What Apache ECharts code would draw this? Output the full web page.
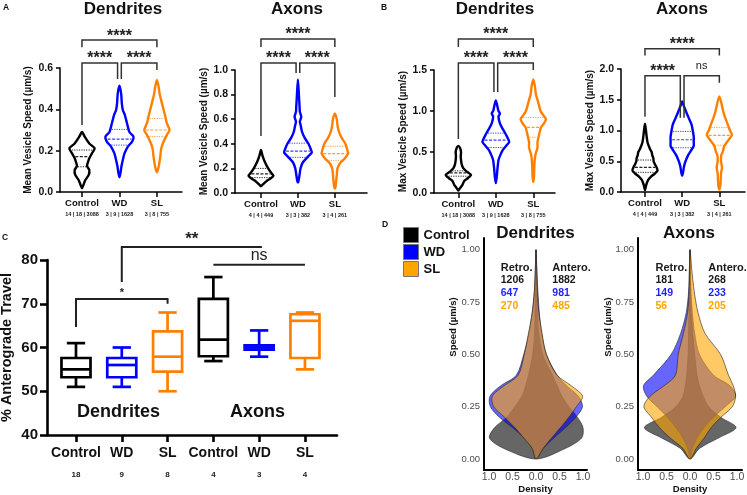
<!DOCTYPE html>
<html>
<head>
<meta charset="utf-8">
<script src="https://cdn.jsdelivr.net/npm/echarts@6.0.0/dist/echarts.min.js"></script>
<style>
html,body{margin:0;padding:0;background:#ffffff;}
#chart{width:747px;height:495px;}
</style>
</head>
<body>
<div id="chart"></div>
<script>
// ================= DATA =================
const groups = ['Control', 'WD', 'SL'];
const dendCounts = ['14 | 18 | 3088', '3 | 9 | 1628', '3 | 8 | 755'];
const axonCounts = ['4 | 4 | 449', '3 | 3 | 382', '3 | 4 | 261'];

// y tick labels
const aDendYTicks = [0, 0.2, 0.4, 0.6];
const aAxonYTicks = [0, 0.2, 0.4, 0.6, 0.8, 1.0];
const bDendYTicks = [0, 0.5, 1.0, 1.5];
const bAxonYTicks = [0, 0.5, 1.0, 1.5, 2.0];
const cYTicks = [40, 50, 60, 70, 80];
const dYTicks = [0, 0.25, 0.5, 0.75, 1.0];
const dXTicks = [-1, -0.5, 0, 0.5, 1];

// Panel A: mean vesicle speed violins, [speed, relative density]
const aDendControl = [[0.018,0],[0.034,0.1],[0.058,0.24],[0.083,0.48],[0.107,0.52],[0.126,0.36],[0.145,0.43],[0.163,0.52],[0.187,0.71],[0.211,0.9],[0.235,0.52],[0.268,0.19],[0.29,0]];
const aDendWD = [[0.071,0],[0.09,0.07],[0.123,0.14],[0.155,0.24],[0.187,0.36],[0.22,0.6],[0.244,0.9],[0.268,1.0],[0.29,0.71],[0.324,0.57],[0.348,0.48],[0.373,0.38],[0.397,0.24],[0.429,0.17],[0.477,0.12],[0.514,0]];
const aDendSL = [[0.095,0],[0.115,0.1],[0.139,0.17],[0.171,0.24],[0.211,0.31],[0.244,0.48],[0.276,0.71],[0.3,0.9],[0.332,0.71],[0.365,0.6],[0.397,0.48],[0.429,0.36],[0.477,0.19],[0.51,0.12],[0.542,0]];
const aDendQuartiles = [[0.122,0.171,0.203],[0.227,0.256,0.303],[0.268,0.3,0.356]];

const aAxonControl = [[0.054,0],[0.07,0.14],[0.1,0.43],[0.12,0.71],[0.14,0.9],[0.16,0.76],[0.2,0.52],[0.25,0.29],[0.3,0.12],[0.35,0]];
const aAxonWD = [[0.084,0],[0.1,0.05],[0.15,0.12],[0.2,0.19],[0.25,0.36],[0.3,0.76],[0.33,1.0],[0.35,0.95],[0.4,0.76],[0.45,0.48],[0.5,0.29],[0.55,0.2],[0.58,0.14],[0.62,0.24],[0.66,0.14],[0.7,0.12],[0.8,0.07],[0.924,0]];
const aAxonSL = [[0.035,0],[0.05,0.05],[0.1,0.1],[0.15,0.14],[0.2,0.19],[0.24,0.36],[0.28,0.71],[0.32,0.95],[0.35,0.9],[0.4,0.76],[0.45,0.48],[0.5,0.29],[0.55,0.19],[0.6,0.14],[0.647,0]];
const aAxonQuartiles = [[0.125,0.155,0.2],[0.29,0.34,0.405],[0.265,0.32,0.38]];

// Panel B: max vesicle speed violins
const bDendControl = [[0.03,0],[0.06,0.12],[0.1,0.29],[0.15,0.43],[0.18,0.67],[0.22,0.9],[0.26,0.6],[0.3,0.36],[0.35,0.24],[0.4,0.19],[0.45,0.17],[0.5,0.19],[0.55,0.12],[0.575,0]];
const bDendWD = [[0.12,0],[0.2,0.07],[0.3,0.12],[0.4,0.19],[0.45,0.29],[0.52,0.48],[0.58,0.76],[0.62,0.95],[0.65,0.9],[0.7,0.76],[0.75,0.6],[0.8,0.43],[0.85,0.29],[0.93,0.19],[0.97,0.29],[1.0,0.19],[1.05,0.12],[1.13,0]];
const bDendSL = [[0.135,0],[0.2,0.05],[0.3,0.07],[0.4,0.1],[0.48,0.17],[0.55,0.3],[0.62,0.3],[0.7,0.4],[0.8,0.55],[0.85,0.76],[0.9,0.9],[0.95,0.71],[1.0,0.52],[1.1,0.36],[1.2,0.19],[1.3,0.12],[1.386,0]];
const bDendQuartiles = [[0.205,0.245,0.27],[0.555,0.645,0.73],[0.68,0.8,0.92]];

const bAxonControl = [[0.03,0],[0.1,0.07],[0.15,0.14],[0.2,0.24],[0.25,0.43],[0.3,0.71],[0.35,0.9],[0.4,0.83],[0.45,0.71],[0.5,0.62],[0.55,0.6],[0.6,0.52],[0.65,0.48],[0.7,0.36],[0.8,0.19],[0.9,0.12],[1.0,0.07],[1.11,0]];
const bAxonWD = [[0.265,0],[0.3,0.05],[0.4,0.12],[0.45,0.17],[0.5,0.24],[0.6,0.43],[0.7,0.71],[0.75,0.83],[0.8,0.83],[0.9,0.83],[1.0,0.76],[1.1,0.67],[1.2,0.48],[1.3,0.29],[1.4,0.12],[1.474,0]];
const bAxonSL = [[0.04,0],[0.1,0.07],[0.2,0.1],[0.3,0.12],[0.4,0.19],[0.5,0.12],[0.6,0.14],[0.65,0.24],[0.75,0.36],[0.85,0.67],[0.93,0.9],[1.0,0.76],[1.1,0.6],[1.2,0.43],[1.3,0.29],[1.45,0.14],[1.555,0]];
const bAxonQuartiles = [[0.32,0.4,0.52],[0.72,0.85,0.985],[0.76,0.92,1.05]];

// significance brackets: [x1, x2, barY, dropY1, dropY2]
const aDendBrackets = [[0,2,0.735,0.70,0.70],[0,0.95,0.624,0.324,0.547],[1.05,2,0.624,0.547,0.59]];
const aDendBracketLabels = ['****','****','****'];
const aAxonBrackets = [[0,2,1.252,1.187,1.187],[0,0.95,1.057,0.463,0.976],[1.05,2,1.057,0.976,0.78]];
const aAxonBracketLabels = ['****','****','****'];
const bDendBrackets = [[0,2,1.878,1.78,1.78],[0,0.95,1.585,0.659,1.232],[1.05,2,1.585,1.232,1.5]];
const bDendBracketLabels = ['****','****','****'];
const bAxonBrackets = [[0,2,2.33,2.22,2.22],[0,0.95,1.891,1.224,1.207],[1.05,2,1.891,1.207,1.777]];
const bAxonBracketLabels = ['****','****','ns'];

// Panel C: % anterograde travel boxes [min, Q1, median, Q3, max]
const cCategories = ['Control', 'WD', 'SL', 'Control', 'WD', 'SL'];
const cCounts = ['18', '9', '8', '4', '3', '4'];
const cBoxes = [
  [51, 53.2, 55, 57.6, 61],
  [51, 53.2, 56, 57.6, 60],
  [50, 54.5, 57.9, 63.7, 68],
  [56.9, 58.0, 61.8, 71.1, 76.1],
  [57.9, 59.5, 60.0, 60.5, 63.9],
  [55, 57.6, 66.1, 67.6, 68]
];
const cBrackets = [[0,2,71.1,64.7,70.0],[1,4.06,83.0,75.0,83.0],[3,5,78.9,78.9,78.9]];
const cBracketLabels = ['*','**','ns'];

// Panel D: split violin densities (left = retrograde, right = anterograde)
const dSpeed = [0,0.05,0.1,0.15,0.2,0.25,0.3,0.35,0.4,0.5,0.6,0.7,0.8,0.9,1.0];
const dDendControlRetro = [0,0.68,0.99,0.88,0.62,0.45,0.3,0.22,0.16,0.07,0.03,0.02,0.01,0.005,0];
const dDendControlAntero = [0,0.62,0.97,1.0,0.88,0.7,0.55,0.45,0.35,0.14,0.06,0.03,0.015,0.005,0];
const dDendWDRetro = [0,0.07,0.25,0.5,0.78,0.97,0.98,0.75,0.42,0.26,0.15,0.08,0.035,0.015,0];
const dDendWDAntero = [0,0.15,0.38,0.63,0.85,0.99,0.9,0.65,0.45,0.22,0.12,0.07,0.04,0.02,0];
const dDendSLRetro = [0,0.08,0.26,0.45,0.67,0.9,0.93,0.68,0.38,0.25,0.16,0.08,0.035,0.015,0];
const dDendSLAntero = [0,0.15,0.33,0.52,0.7,0.86,0.99,0.75,0.45,0.22,0.13,0.06,0.03,0.015,0];
const dAxonControlRetro = [0,0.2,0.6,0.97,0.6,0.3,0.15,0.1,0.07,0.04,0.03,0.02,0.01,0.005,0];
const dAxonControlAntero = [0,0.2,0.6,0.98,0.65,0.4,0.28,0.2,0.15,0.1,0.06,0.03,0.015,0.007,0];
const dAxonWDRetro = [0,0.05,0.15,0.3,0.48,0.7,0.92,0.99,0.78,0.4,0.2,0.08,0.03,0.015,0];
const dAxonWDAntero = [0,0.05,0.15,0.3,0.5,0.75,0.97,0.85,0.5,0.2,0.1,0.05,0.02,0.01,0];
const dAxonSLRetro = [0,0.15,0.42,0.65,0.82,0.98,0.85,0.55,0.31,0.25,0.14,0.05,0.02,0.01,0];
const dAxonSLAntero = [0,0.13,0.3,0.45,0.66,0.9,0.97,0.92,0.82,0.65,0.32,0.17,0.09,0.04,0];
const dDendRetroN = [1206, 647, 270];
const dDendAnteroN = [1882, 981, 485];
const dAxonRetroN = [181, 149, 56];
const dAxonAnteroN = [268, 233, 205];

// ================= STYLE / RENDER =================
const FONT = '"Liberation Sans", Arial, Helvetica, sans-serif';
const violinColors = ['#000000', '#0000ff', '#ff8000'];
const quartColors = ['#222222', '#3a3aff', '#ff9a3c'];
const dFill = ['rgba(0,0,0,0.6)', 'rgba(0,0,255,0.6)', 'rgba(255,165,0,0.6)'];
const dSolid = ['#000000', '#0000ff', '#ffa500'];
const numColors = ['#1a1a1a', '#1f1fff', '#ffa500'];
const VIOLIN_HALF = 0.375;

function interp(prof, v) {
  for (let k = 0; k < prof.length - 1; k++) {
    const a = prof[k], b = prof[k + 1];
    if (v >= a[0] && v <= b[0]) return a[1] + (b[1] - a[1]) * (v - a[0]) / (b[0] - a[0]);
  }
  return 0;
}

function violinSeries(gi, profiles, quarts) {
  return {
    type: 'custom', xAxisIndex: gi, yAxisIndex: gi, clip: false, silent: true,
    data: profiles.map((p, i) => [i, quarts[i][1]]),
    renderItem: (params, api) => {
      const i = params.dataIndex;
      const prof = profiles[i];
      const cx = api.value(0);
      const pts = [];
      for (let k = 0; k < prof.length; k++) pts.push(api.coord([cx + prof[k][1] * VIOLIN_HALF, prof[k][0]]));
      for (let k = prof.length - 2; k >= 1; k--) pts.push(api.coord([cx - prof[k][1] * VIOLIN_HALF, prof[k][0]]));
      const children = [{
        type: 'polygon', shape: { points: pts, smooth: 0.25 },
        style: { fill: 'rgba(255,255,255,0)', stroke: violinColors[i], lineWidth: 2.4, lineJoin: 'round' }
      }];
      quarts[i].forEach((q, qi) => {
        const d = interp(prof, q) * VIOLIN_HALF;
        const p1 = api.coord([cx - d, q]), p2 = api.coord([cx + d, q]);
        children.push({
          type: 'line', shape: { x1: p1[0] + 1.5, y1: p1[1], x2: p2[0] - 1.5, y2: p2[1] },
          style: { stroke: quartColors[i], lineWidth: qi === 1 ? 1.2 : 1, lineDash: qi === 1 ? [3, 1.5] : [1.2, 1.2] }
        });
      });
      return { type: 'group', children };
    }
  };
}

function bracketSeries(gi, brackets, labels, styles, lw, col) {
  return {
    type: 'custom', xAxisIndex: gi, yAxisIndex: gi, clip: false, silent: true,
    data: brackets,
    renderItem: (params, api) => {
      const b = brackets[params.dataIndex];
      const lab = labels[params.dataIndex];
      const st = styles[lab];
      const p1 = api.coord([b[0], b[3]]), p2 = api.coord([b[0], b[2]]);
      const p3 = api.coord([b[1], b[2]]), p4 = api.coord([b[1], b[4]]);
      return {
        type: 'group', children: [
          { type: 'polyline', shape: { points: [p1, p2, p3, p4] }, style: { stroke: col, lineWidth: lw, fill: null, lineJoin: 'miter' } },
          { type: 'text', x: (p2[0] + p3[0]) / 2, y: p2[1] + st.dy,
            style: { text: lab, fill: '#222', font: `${st.weight} ${st.size}px ${FONT}`, align: 'center', verticalAlign: 'middle' } }
        ]
      };
    }
  };
}

const boxSeries = {
  type: 'custom', xAxisIndex: 4, yAxisIndex: 4, clip: false, silent: true,
  data: cBoxes.map((b, i) => [i].concat(b)),
  renderItem: (params, api) => {
    const i = params.dataIndex;
    const x = api.value(0);
    const mn = api.value(1), q1 = api.value(2), md = api.value(3), q3 = api.value(4), mx = api.value(5);
    const c = violinColors[i % 3];
    const bw = 0.317, cw = 0.2;
    const P = (xx, yy) => api.coord([xx, yy]);
    const st = { stroke: c, lineWidth: 2.7, fill: null, lineJoin: 'miter', lineCap: 'butt' };
    const ln = (a, b) => ({ type: 'line', shape: { x1: a[0], y1: a[1], x2: b[0], y2: b[1] }, style: st });
    return {
      type: 'group', children: [
        { type: 'polygon', shape: { points: [P(x - bw, q1), P(x + bw, q1), P(x + bw, q3), P(x - bw, q3)] }, style: st },
        ln(P(x - bw, md), P(x + bw, md)),
        ln(P(x, q3), P(x, mx)),
        ln(P(x, q1), P(x, mn)),
        ln(P(x - cw, mx), P(x + cw, mx)),
        ln(P(x - cw, mn), P(x + cw, mn))
      ]
    };
  }
};

function dSeries(gi, name, retro, antero, idx) {
  return {
    type: 'custom', name, xAxisIndex: gi, yAxisIndex: gi, clip: false, silent: true,
    itemStyle: { color: dSolid[idx] },
    data: [[0, 0.5]],
    renderItem: (params, api) => {
      const pts = [];
      for (let k = 0; k < dSpeed.length; k++) pts.push(api.coord([antero[k], dSpeed[k]]));
      for (let k = dSpeed.length - 2; k >= 1; k--) pts.push(api.coord([-retro[k], dSpeed[k]]));
      return { type: 'polygon', shape: { points: pts, smooth: 0.3 },
        style: { fill: dFill[idx], stroke: '#222', lineWidth: 0.6 } };
    }
  };
}

const axisLineStyle = (w) => ({ show: true, onZero: false, lineStyle: { color: '#000', width: w } });

function violinX(gi, min, max, counts) {
  return {
    type: 'value', gridIndex: gi, min, max,
    axisLine: axisLineStyle(1.5),
    axisTick: { show: true, customValues: [0, 1, 2], length: 5, lineStyle: { color: '#000', width: 1.5 } },
    axisLabel: {
      customValues: [0, 1, 2], margin: 6,
      formatter: v => `{a|${groups[Math.round(v)]}}\n{b|${counts[Math.round(v)]}}`,
      rich: {
        a: { fontFamily: FONT, fontSize: 9.5, fontWeight: 'bold', color: '#111', lineHeight: 11 },
        b: { fontFamily: FONT, fontSize: 5.5, fontWeight: 'bold', color: '#222', lineHeight: 11 }
      }
    },
    splitLine: { show: false }
  };
}
function violinY(gi, ticks, name, nameGap) {
  return {
    type: 'value', gridIndex: gi, min: ticks[0], max: ticks[ticks.length - 1],
    name, nameLocation: 'middle', nameGap,
    nameTextStyle: { fontFamily: FONT, fontSize: 10, fontWeight: 'bold', color: '#111' },
    axisLine: axisLineStyle(1.5),
    axisTick: { show: true, customValues: ticks, length: 4, lineStyle: { color: '#000', width: 1.5 } },
    axisLabel: { customValues: ticks, margin: 7, fontFamily: FONT, fontSize: 10.5, fontWeight: 'bold', color: '#111', formatter: v => v.toFixed(1) },
    splitLine: { show: false }
  };
}
function dX(gi, min, max) {
  return {
    type: 'value', gridIndex: gi, min, max,
    name: 'Density', nameLocation: 'middle', nameGap: 13,
    nameTextStyle: { fontFamily: FONT, fontSize: 9.5, fontWeight: 'bold', color: '#111' },
    axisLine: axisLineStyle(2),
    axisTick: { show: false },
    axisLabel: { customValues: dXTicks, margin: 2, fontFamily: FONT, fontSize: 10.5, color: '#4d4d4d', formatter: v => Math.abs(v).toFixed(1) },
    splitLine: { show: false }
  };
}
function dY(gi) {
  return {
    type: 'value', gridIndex: gi, min: -0.0526, max: 1.056,
    axisLine: axisLineStyle(2),
    axisTick: { show: false },
    axisLabel: { customValues: dYTicks, margin: 4, fontFamily: FONT, fontSize: 9.5, color: '#4d4d4d', formatter: v => v.toFixed(2) },
    splitLine: { show: false }
  };
}

const starStyleAB = { '****': { size: 16, dy: -4, weight: 'bold' }, 'ns': { size: 11, dy: -10, weight: 'normal' } };
const starStyleC = { '*': { size: 11, dy: -5.5, weight: 'bold' }, '**': { size: 17, dy: -7.8, weight: 'bold' }, 'ns': { size: 16, dy: -9.4, weight: 'normal' } };

const txt = (x, y, text, size, weight, color, align, va, rot) => ({
  type: 'text', x, y, rotation: rot || 0, silent: true,
  style: { text, fill: color || '#111', font: `${weight} ${size}px ${FONT}`, align: align || 'center', verticalAlign: va || 'middle' }
});

const graphics = [
  txt(3, 3, 'A', 8.5, 'bold', '#111', 'left', 'top'),
  txt(381, 3, 'B', 8.5, 'bold', '#111', 'left', 'top'),
  txt(2, 233, 'C', 8.5, 'bold', '#111', 'left', 'top'),
  txt(382, 220, 'D', 8.5, 'bold', '#111', 'left', 'top'),
  txt(123, 9, 'Dendrites', 17, 'bold'),
  txt(297, 9, 'Axons', 17, 'bold'),
  txt(495, 9, 'Dendrites', 17, 'bold'),
  txt(682, 9, 'Axons', 17, 'bold'),
  txt(118.5, 412, 'Dendrites', 18, 'bold'),
  txt(257.5, 412, 'Axons', 18, 'bold'),
  txt(535.5, 233, 'Dendrites', 17, 'bold'),
  txt(689, 233, 'Axons', 17, 'bold'),
  txt(453, 327, 'Speed (µm/s)', 9.5, 'bold', '#111', 'center', 'middle', Math.PI / 2),
  txt(608, 327, 'Speed (µm/s)', 9.5, 'bold', '#111', 'center', 'middle', Math.PI / 2),
  txt(500.7, 267.5, 'Retro.', 11, 'bold', '#1a1a1a', 'left'),
  txt(552.3, 267.5, 'Antero.', 11, 'bold', '#1a1a1a', 'left'),
  txt(655.5, 267.5, 'Retro.', 11, 'bold', '#1a1a1a', 'left'),
  txt(708.3, 267.5, 'Antero.', 11, 'bold', '#1a1a1a', 'left')
];
const rowY = [280, 293, 306];
for (let i = 0; i < 3; i++) {
  graphics.push(txt(500.7, rowY[i], String(dDendRetroN[i]), 10.5, 'bold', numColors[i], 'left'));
  graphics.push(txt(552.3, rowY[i], String(dDendAnteroN[i]), 10.5, 'bold', numColors[i], 'left'));
  graphics.push(txt(655.5, rowY[i], String(dAxonRetroN[i]), 10.5, 'bold', numColors[i], 'left'));
  graphics.push(txt(708.3, rowY[i], String(dAxonAnteroN[i]), 10.5, 'bold', numColors[i], 'left'));
}

const option = {
  animation: false,
  backgroundColor: '#ffffff',
  legend: {
    orient: 'vertical', left: 403, top: 227, itemWidth: 15, itemHeight: 15, itemGap: 1, padding: 0,
    icon: 'rect', selectedMode: false,
    textStyle: { fontFamily: FONT, fontSize: 13, fontWeight: 'bold', color: '#111' },
    data: groups.map((g, i) => ({ name: g, itemStyle: { color: dSolid[i], borderColor: '#777', borderWidth: 1 } }))
  },
  grid: [
    { left: 60, top: 68, width: 122, height: 124, outerBoundsMode: 'none' },
    { left: 235, top: 70, width: 132, height: 123, outerBoundsMode: 'none' },
    { left: 434, top: 70, width: 121, height: 123, outerBoundsMode: 'none' },
    { left: 621, top: 69, width: 124, height: 123, outerBoundsMode: 'none' },
    { left: 47, top: 260, width: 290, height: 175, outerBoundsMode: 'none' },
    { left: 484, top: 238, width: 103, height: 232, outerBoundsMode: 'none' },
    { left: 638, top: 238, width: 104, height: 232, outerBoundsMode: 'none' }
  ],
  xAxis: [
    violinX(0, -0.587, 2.67, dendCounts),
    violinX(1, -0.703, 2.87, axonCounts),
    violinX(2, -0.65, 2.58, dendCounts),
    violinX(3, -0.645, 2.69, axonCounts),
    {
      type: 'value', gridIndex: 4, min: -0.633, max: 5.70,
      axisLine: axisLineStyle(2.6),
      axisTick: { show: true, customValues: [0, 1, 2, 3, 4, 5], length: 7, lineStyle: { color: '#000', width: 2.6 } },
      axisLabel: {
        customValues: [0, 1, 2, 3, 4, 5], margin: 10,
        formatter: v => `{a|${cCategories[Math.round(v)]}}\n{b|${cCounts[Math.round(v)]}}`,
        rich: {
          a: { fontFamily: FONT, fontSize: 14, fontWeight: 'bold', color: '#111', lineHeight: 16 },
          b: { fontFamily: FONT, fontSize: 8, fontWeight: 'bold', color: '#222', lineHeight: 28 }
        }
      },
      splitLine: { show: false }
    },
    dX(5, -1.106, 1.085),
    dX(6, -1.106, 1.106)
  ],
  yAxis: [
    violinY(0, aDendYTicks, 'Mean Vesicle Speed (µm/s)', 27),
    violinY(1, aAxonYTicks, 'Mean Vesicle Speed (µm/s)', 23),
    violinY(2, bDendYTicks, 'Max Vesicle Speed (µm/s)', 22),
    violinY(3, bAxonYTicks, 'Max Vesicle Speed (µm/s)', 24),
    {
      type: 'value', gridIndex: 4, min: 40, max: 80,
      name: '% Anterograde Travel', nameLocation: 'middle', nameGap: 33,
      nameTextStyle: { fontFamily: FONT, fontSize: 14.5, fontWeight: 'bold', color: '#111' },
      axisLine: axisLineStyle(2.6),
      axisTick: { show: true, customValues: cYTicks, length: 7, lineStyle: { color: '#000', width: 2.6 } },
      axisLabel: { customValues: cYTicks, margin: 9, fontFamily: FONT, fontSize: 15, fontWeight: 'bold', color: '#111' },
      splitLine: { show: false }
    },
    dY(5),
    dY(6)
  ],
  graphic: graphics,
  series: [
    violinSeries(0, [aDendControl, aDendWD, aDendSL], aDendQuartiles),
    violinSeries(1, [aAxonControl, aAxonWD, aAxonSL], aAxonQuartiles),
    violinSeries(2, [bDendControl, bDendWD, bDendSL], bDendQuartiles),
    violinSeries(3, [bAxonControl, bAxonWD, bAxonSL], bAxonQuartiles),
    bracketSeries(0, aDendBrackets, aDendBracketLabels, starStyleAB, 1.5, '#333'),
    bracketSeries(1, aAxonBrackets, aAxonBracketLabels, starStyleAB, 1.5, '#333'),
    bracketSeries(2, bDendBrackets, bDendBracketLabels, starStyleAB, 1.5, '#333'),
    bracketSeries(3, bAxonBrackets, bAxonBracketLabels, starStyleAB, 1.5, '#333'),
    boxSeries,
    bracketSeries(4, cBrackets, cBracketLabels, starStyleC, 2, '#222'),
    dSeries(5, 'Control', dDendControlRetro, dDendControlAntero, 0),
    dSeries(5, 'WD', dDendWDRetro, dDendWDAntero, 1),
    dSeries(5, 'SL', dDendSLRetro, dDendSLAntero, 2),
    dSeries(6, 'Control', dAxonControlRetro, dAxonControlAntero, 0),
    dSeries(6, 'WD', dAxonWDRetro, dAxonWDAntero, 1),
    dSeries(6, 'SL', dAxonSLRetro, dAxonSLAntero, 2)
  ]
};

const chart = echarts.init(document.getElementById('chart'), null, { renderer: 'canvas' });
chart.setOption(option);
</script>
</body>
</html>
